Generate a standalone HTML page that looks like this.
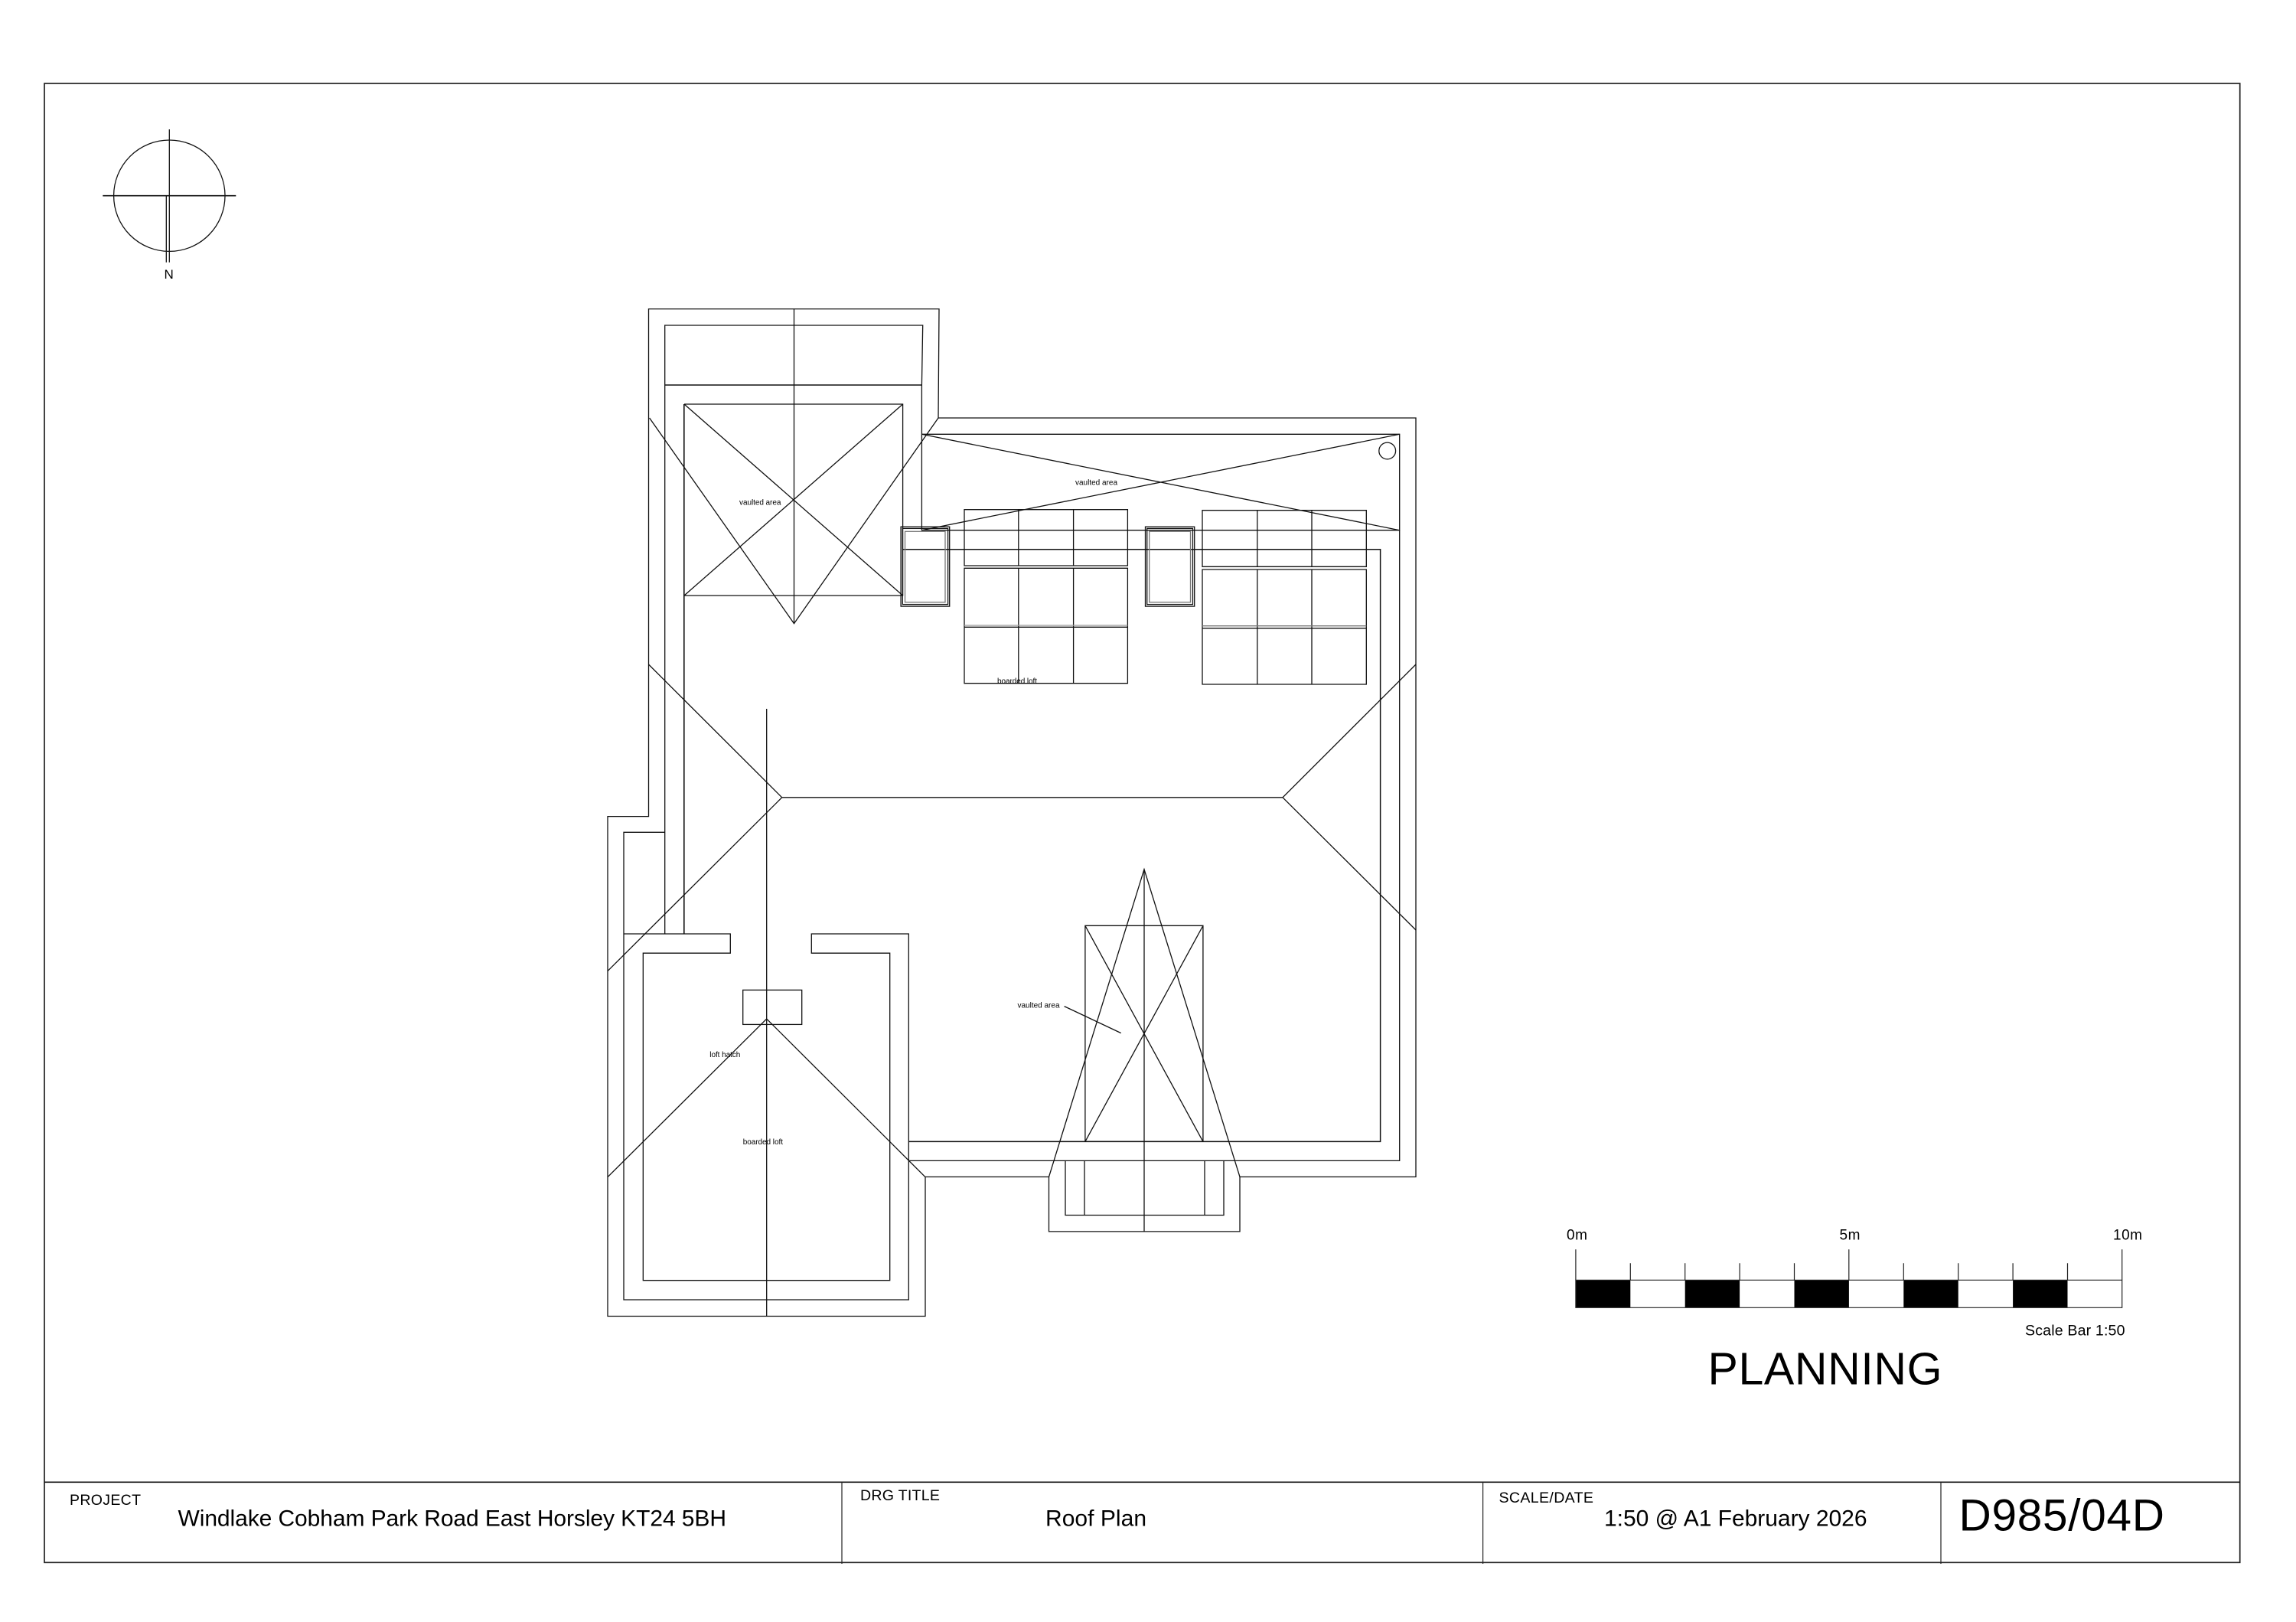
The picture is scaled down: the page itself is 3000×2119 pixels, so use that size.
<!DOCTYPE html>
<html><head><meta charset="utf-8"><style>
html,body{margin:0;padding:0;background:#fff;width:3000px;height:2119px;overflow:hidden}
svg{display:block}
text{font-family:"Liberation Sans",Arial,sans-serif;fill:#000}
</style></head><body>
<svg width="3000" height="2119" viewBox="0 0 3000 2119" xmlns="http://www.w3.org/2000/svg">
<rect width="3000" height="2119" fill="#fff"/>
<!-- frame -->
<g fill="none" stroke="#222" stroke-width="1.7">
<rect x="58" y="109" width="2868.7" height="1932.3"/>
<path d="M58 1936.3H2926.7" stroke="#111"/>
<path d="M1100 1936.3V2043M1937.6 1936.3V2043M2536 1936.3V2043" stroke-width="1.2"/>
</g>
<!-- compass -->
<g fill="none" stroke="#111" stroke-width="1.3">
<circle cx="221.3" cy="255.7" r="72.7"/>
<path d="M134.3 255.7H308.3" stroke-width="1.7"/>
<path d="M221.3 169V342.7M217.3 255.7V342.7"/>
</g>
<text x="214.5" y="364" font-size="17">N</text>
<!-- plan -->
<g fill="none" stroke="#111" stroke-width="1.3">
<!-- outer outline -->
<path d="M847.5 1066.6V403.6H1227L1226 546H1850V1537.5H1620V1608.9H1370.5V1537.5H1209V1719.5H794V1066.6Z"/>
<!-- second outline -->
<path d="M868.7 1220V425H1205.7L1204.4 503V692.7H1828.7V567.3H1204.4"/>
<path d="M868.7 503H1204.4" stroke-width="1.6"/>
<path d="M868.7 1087.3H815V1698H1187.3V1220H1060.3V1245.2H1162.7V1672.7H840.3V1245.2H954.3V1220H815"/>
<path d="M1828.7 692.7V1516.4H1187.3"/>
<path d="M1187.3 1491.4H1803.6V717.7H1179" stroke-width="1.5"/>
<path d="M893.8 528V1220" stroke-width="1.6"/>
<!-- vault 1 -->
<path d="M894 528H1179.6V778H894M894 528L1179.6 778M1179.6 528L894 778"/>
<!-- hips -->
<path d="M848.6 546L1037.5 814.6L1226 546"/>
<path d="M847.5 868L1021.7 1041.8H1676L1850 868M1676 1041.8L1850 1215M1021.7 1041.8L794 1268.6"/>
<path d="M794 1537.7L1001.7 1331L1209 1537.7"/>
<!-- ridges -->
<path d="M1037.5 403.6V814.6M1001.7 926V1719.5M1495 1135.7V1608.9"/>
<!-- vault top -->
<path d="M1204.4 567.3L1828.7 692.7M1204.4 692.7L1828.7 567.3"/>
<circle cx="1812.7" cy="589" r="10.9"/>
<!-- boards left -->
<path d="M1260 665.7H1473.4V739H1260ZM1260 742.3H1473.4V892.7H1260ZM1260 819.3H1473.4M1330.8 665.7V739M1402.6 665.7V739M1330.8 742.3V892.7M1402.6 742.3V892.7"/>
<path d="M1260 817H1473.4" stroke="#999"/>
<!-- boards right -->
<path d="M1571 666.7H1785.3V740.3H1571ZM1571 744H1785.3V894H1571ZM1571 820.7H1785.3M1642.8 666.7V740.3M1714 666.7V740.3M1642.8 744V894M1714 744V894"/>
<path d="M1571 817.7H1785.3" stroke="#777"/>
<!-- skylights -->
<rect x="1177.1" y="688.2" width="63.6" height="103.9"/>
<rect x="1179.3" y="690.4" width="59.3" height="99.2"/>
<rect x="1182.5" y="694.3" width="52.5" height="92.5" stroke="#777"/>
<rect x="1496.5" y="688.2" width="64.2" height="103.9"/>
<rect x="1498.7" y="690.4" width="59.8" height="99.2"/>
<rect x="1501.7" y="694.3" width="53.8" height="92.5" stroke="#777"/>
<!-- hatch -->
<rect x="970.7" y="1293.4" width="77" height="45"/>
<!-- vault 3 -->
<path d="M1417.9 1209.3H1571.9V1491.4H1417.9ZM1417.9 1209.3L1571.9 1491.4M1571.9 1209.3L1417.9 1491.4"/>
<path d="M1370.5 1537.5L1495 1135.7L1620 1537.5"/>
<path d="M1392 1516.4V1587.5H1599V1516.4M1417 1516.4V1587.5M1574 1516.4V1587.5"/>
<path d="M1390.6 1314.6L1464.7 1349.6"/>
</g>
<!-- plan labels -->
<g font-size="10" style="fill:#222">
<text x="966" y="659.5" textLength="54.4">vaulted area</text>
<text x="1405" y="633.5" textLength="55">vaulted area</text>
<text x="1303" y="893" textLength="52">boarded loft</text>
<text x="1329.5" y="1316.5" textLength="55">vaulted area</text>
<text x="927.3" y="1381" textLength="40">loft hatch</text>
<text x="970.7" y="1495" textLength="52.3">boarded loft</text>
</g>
<!-- scale bar -->
<g fill="#000">
<rect x="2058.9" y="1672.3" width="71.4" height="36"/>
<rect x="2201.7" y="1672.3" width="71.4" height="36"/>
<rect x="2344.5" y="1672.3" width="71.4" height="36"/>
<rect x="2487.3" y="1672.3" width="71.4" height="36"/>
<rect x="2630.1" y="1672.3" width="71.4" height="36"/>
</g>
<g fill="none" stroke="#222" stroke-width="1.2">
<path d="M2058.9 1672.3H2772.7V1708.3H2058.9Z"/>
<path d="M2058.9 1632.3V1672.3M2415.8 1632.3V1672.3M2772.7 1632.3V1672.3"/>
<path d="M2130.3 1650.3V1672.3M2201.7 1650.3V1672.3M2273.1 1650.3V1672.3M2344.5 1650.3V1672.3M2487.3 1650.3V1672.3M2558.7 1650.3V1672.3M2630.1 1650.3V1672.3M2701.5 1650.3V1672.3"/>
</g>
<text x="2047" y="1619.3" font-size="19" textLength="27">0m</text>
<text x="2403.5" y="1619.3" font-size="19" textLength="27">5m</text>
<text x="2761" y="1619.3" font-size="19" textLength="38">10m</text>
<text x="2646" y="1744.3" font-size="19.6" textLength="130.5">Scale Bar 1:50</text>
<text x="2231.5" y="1808.3" font-size="59" textLength="306">PLANNING</text>
<!-- title block -->
<text x="91" y="1966" font-size="19.5" textLength="93">PROJECT</text>
<text x="232.5" y="1993.3" font-size="30" textLength="716.5">Windlake Cobham Park Road East Horsley KT24 5BH</text>
<text x="1124" y="1960" font-size="19.6" textLength="104">DRG TITLE</text>
<text x="1366" y="1993.3" font-size="30" textLength="132">Roof Plan</text>
<text x="1958.5" y="1963" font-size="19.6" textLength="123.5">SCALE/DATE</text>
<text x="2096" y="1993.3" font-size="30" textLength="343.5">1:50 @ A1 February 2026</text>
<text x="2559.5" y="1999.3" font-size="58.5" textLength="268.5">D985/04D</text>
</svg>
</body></html>
